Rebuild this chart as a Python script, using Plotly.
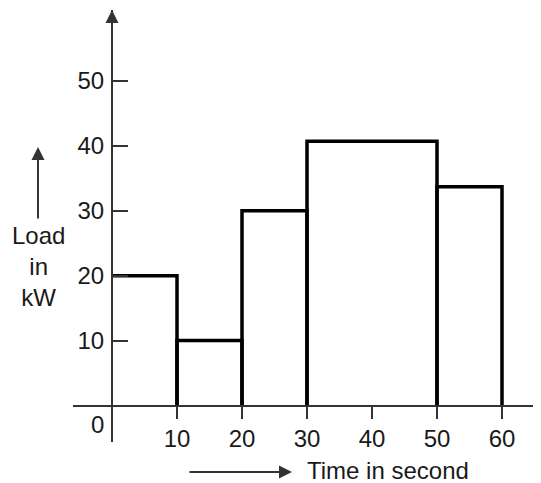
import plotly.graph_objects as go

# Data
time_bounds = [0, 10, 20, 30, 50, 60]
load_kw = [20, 10, 30, 40.7, 33.7]
x_tick_vals = [10, 20, 30, 40, 50, 60]
x_tick_text = ["10", "20", "30", "40", "50", "60"]
y_tick_vals = [10, 20, 30, 40, 50]
y_tick_text = ["10", "20", "30", "40", "50"]

# page body has an 8px margin; lay out in reference pixels then shift
OFF = 8
W, H = 541 - OFF, 483 - OFF
L, R, T, B = 73 - OFF, 541 - OFF, 10 - OFF, 442 - OFF
X0PX, Y0PX = 112 - OFF, 405.5 - OFF
XS, YS = 6.5, 6.49
xmin, xmax = (L - X0PX) / XS, (R - X0PX) / XS
ymin, ymax = -(B - Y0PX) / YS, (Y0PX - T) / YS

def px(x):
    return (x - OFF - L) / (R - L)

def py(y):
    return (B - (y - OFF)) / (B - T)

FONT = "Liberation Sans, Arial, sans-serif"
FS = 24
TXT = "#1a1a1a"
AX = "#333333"

# Build step outline from data
xs, ys = [], []
for i, h in enumerate(load_kw):
    a, b = time_bounds[i], time_bounds[i + 1]
    if i == 0:
        xs += [a, b, b, None]
        ys += [h, h, 0, None]
    else:
        xs += [a, a, b, b, None]
        ys += [0, h, h, 0, None]

fig = go.Figure()
fig.add_trace(go.Scatter(x=xs, y=ys, mode="lines",
                         line=dict(color="black", width=3.5),
                         hoverinfo="skip", showlegend=False))

fig.update_layout(
    width=W, height=H,
    margin=dict(l=L, r=W - R, t=T, b=H - B, pad=0),
    paper_bgcolor="white", plot_bgcolor="white",
    font=dict(family=FONT, size=FS, color=TXT),
    xaxis=dict(range=[xmin, xmax], anchor="free", position=py(405.5),
               showline=True, linecolor=AX, linewidth=2,
               showgrid=False, zeroline=False,
               tickmode="array", tickvals=x_tick_vals, ticktext=x_tick_text,
               ticks="outside", ticklen=12, tickwidth=2, tickcolor=AX,
               tickfont=dict(family=FONT, size=FS, color=TXT)),
    yaxis=dict(range=[ymin, ymax], anchor="free", position=px(112),
               showline=True, linecolor=AX, linewidth=2,
               showgrid=False, zeroline=False,
               tickmode="array", tickvals=y_tick_vals, ticktext=y_tick_text,
               ticks="inside", ticklen=15, tickwidth=2, tickcolor=AX,
               ticklabelstandoff=2,
               tickfont=dict(family=FONT, size=FS, color=TXT)),
)

ann = []
# y-axis top arrow
ann.append(dict(xref="paper", yref="paper", x=px(112), y=py(10), ax=0, ay=30,
                text="", showarrow=True, arrowhead=2, arrowsize=1.3,
                arrowwidth=2, arrowcolor=AX, standoff=0))
# origin label
ann.append(dict(xref="paper", yref="paper", x=px(97), y=py(424), text="0",
                showarrow=False, xanchor="center", yanchor="middle"))
# y-axis title with arrow
ann.append(dict(xref="paper", yref="paper", x=px(38), y=py(147), ax=0, ay=73,
                text="", showarrow=True, arrowhead=2, arrowsize=1.3,
                arrowwidth=2, arrowcolor=AX, standoff=0))
ann.append(dict(xref="paper", yref="paper", x=px(38), y=py(266),
                text="Load<br>in<br>kW", showarrow=False,
                xanchor="center", yanchor="middle", align="center"))
# x-axis title with arrow
ann.append(dict(xref="paper", yref="paper", x=px(292), y=py(472), ax=-104, ay=0,
                text="", showarrow=True, arrowhead=2, arrowsize=1.3,
                arrowwidth=2, arrowcolor=AX, standoff=0))
ann.append(dict(xref="paper", yref="paper", x=px(305), y=py(470),
                text="Time in second", showarrow=False,
                xanchor="left", yanchor="middle"))
fig.update_layout(annotations=ann)

fig.write_html("out.html")
